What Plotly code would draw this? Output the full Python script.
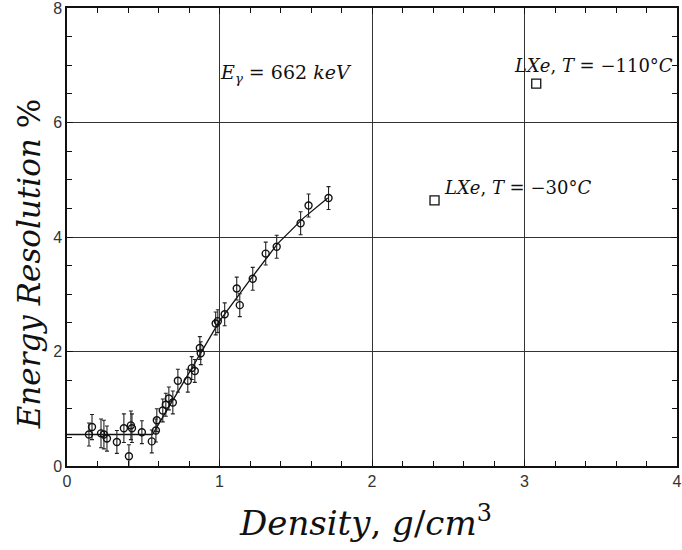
import plotly.graph_objects as go

# measured points (density g/cm^3, energy resolution %)
density = [0.144, 0.164, 0.223, 0.242, 0.262, 0.327, 0.373, 0.406, 0.419, 0.426,
           0.491, 0.556, 0.583, 0.589, 0.628, 0.648, 0.668, 0.694, 0.727, 0.792,
           0.818, 0.838, 0.871, 0.877, 0.975, 0.989, 1.034, 1.113, 1.133, 1.218,
           1.303, 1.375, 1.532, 1.584, 1.715]
resolution = [0.55, 0.68, 0.57, 0.55, 0.48, 0.42, 0.66, 0.17, 0.71, 0.66,
              0.59, 0.43, 0.62, 0.80, 0.97, 1.07, 1.18, 1.11, 1.49, 1.49,
              1.71, 1.66, 2.06, 1.97, 2.49, 2.53, 2.65, 3.10, 2.81, 3.27,
              3.71, 3.83, 4.24, 4.55, 4.68]
errors = [0.2, 0.22, 0.25, 0.25, 0.22, 0.2, 0.25, 0.2, 0.25, 0.25,
          0.2, 0.2, 0.2, 0.2, 0.2, 0.2, 0.2, 0.2, 0.2, 0.2,
          0.2, 0.2, 0.2, 0.2, 0.2, 0.2, 0.2, 0.2, 0.2, 0.2,
          0.2, 0.2, 0.2, 0.2, 0.2]

# fitted curve
fit_x = [0.0, 0.56, 0.75, 1.0, 1.2, 1.38, 1.55, 1.71]
fit_y = [0.55, 0.55, 1.4, 2.53, 3.25, 3.88, 4.33, 4.68]

# liquid xenon reference points
lxe_x = [3.077, 2.41]
lxe_y = [6.68, 4.64]

serif = "DejaVu Serif, serif"

fig = go.Figure()
fig.add_trace(go.Scatter(x=fit_x, y=fit_y, mode="lines",
                         line=dict(color="#111", width=1.3), showlegend=False))
fig.add_trace(go.Scatter(x=density, y=resolution, mode="markers",
                         marker=dict(symbol="circle-open", size=7, color="#111",
                                     line=dict(width=1.4)),
                         error_y=dict(type="data", array=errors, color="#222",
                                      thickness=1.1, width=2),
                         showlegend=False))
fig.add_trace(go.Scatter(x=lxe_x, y=lxe_y, mode="markers",
                         marker=dict(symbol="square-open", size=9, color="#111",
                                     line=dict(width=1.3)),
                         showlegend=False))

ann_font = dict(family=serif, size=18, color="#111")
fig.add_annotation(x=0.99, y=6.85, xref="x", yref="y", xanchor="left", yanchor="middle",
                   text="<i>E</i><sub><i>γ</i></sub> = 662 <i>keV</i>",
                   showarrow=False, font=dict(family=serif, size=19, color="#111"))
fig.add_annotation(x=2.92, y=7.0, xref="x", yref="y", xanchor="left", yanchor="middle",
                   text="<i>LXe</i>, <i>T</i> = −110°<i>C</i>",
                   showarrow=False, font=ann_font)
fig.add_annotation(x=2.46, y=4.86, xref="x", yref="y", xanchor="left", yanchor="middle",
                   text="<i>LXe</i>, <i>T</i> = −30°<i>C</i>",
                   showarrow=False, font=ann_font)

# axis titles
fig.add_annotation(x=-0.061, y=0.44, xref="paper", yref="paper", textangle=-90,
                   xanchor="center", yanchor="middle",
                   text="<i>Energy Resolution</i> %", showarrow=False,
                   font=dict(family=serif, size=31, color="#111"))
fig.add_annotation(x=0.49, y=-0.121, xref="paper", yref="paper",
                   xanchor="center", yanchor="middle",
                   text="<i>Density</i>, <i>g</i>/<i>cm</i><sup>3</sup>", showarrow=False,
                   font=dict(family=serif, size=34, color="#111"))

axis_common = dict(showline=True, linecolor="#111", linewidth=1.5, mirror="ticks",
                   ticks="inside", ticklen=6, tickcolor="#111", automargin=False,
                   ticklabeloverflow="allow",
                   showgrid=True, gridcolor="#333", gridwidth=1, zeroline=False,
                   tickfont=dict(family="Liberation Sans, Arial, sans-serif", size=16, color="#333"))

fig.update_xaxes(range=[0, 4], tick0=0, dtick=1,
                 minor=dict(dtick=0.2, ticks="inside", ticklen=5, tickcolor="#111", showgrid=False),
                 **axis_common)
fig.update_yaxes(range=[0, 8], tick0=0, dtick=2,
                 minor=dict(dtick=0.5, ticks="inside", ticklen=5, tickcolor="#111", showgrid=False),
                 **axis_common)

fig.update_layout(width=682, height=550, margin=dict(l=67, r=5, t=8, b=84),
                  plot_bgcolor="white", paper_bgcolor="white")

fig.write_html("out.html", config={"displayModeBar": False},
               post_script="document.body.style.margin='0';")
